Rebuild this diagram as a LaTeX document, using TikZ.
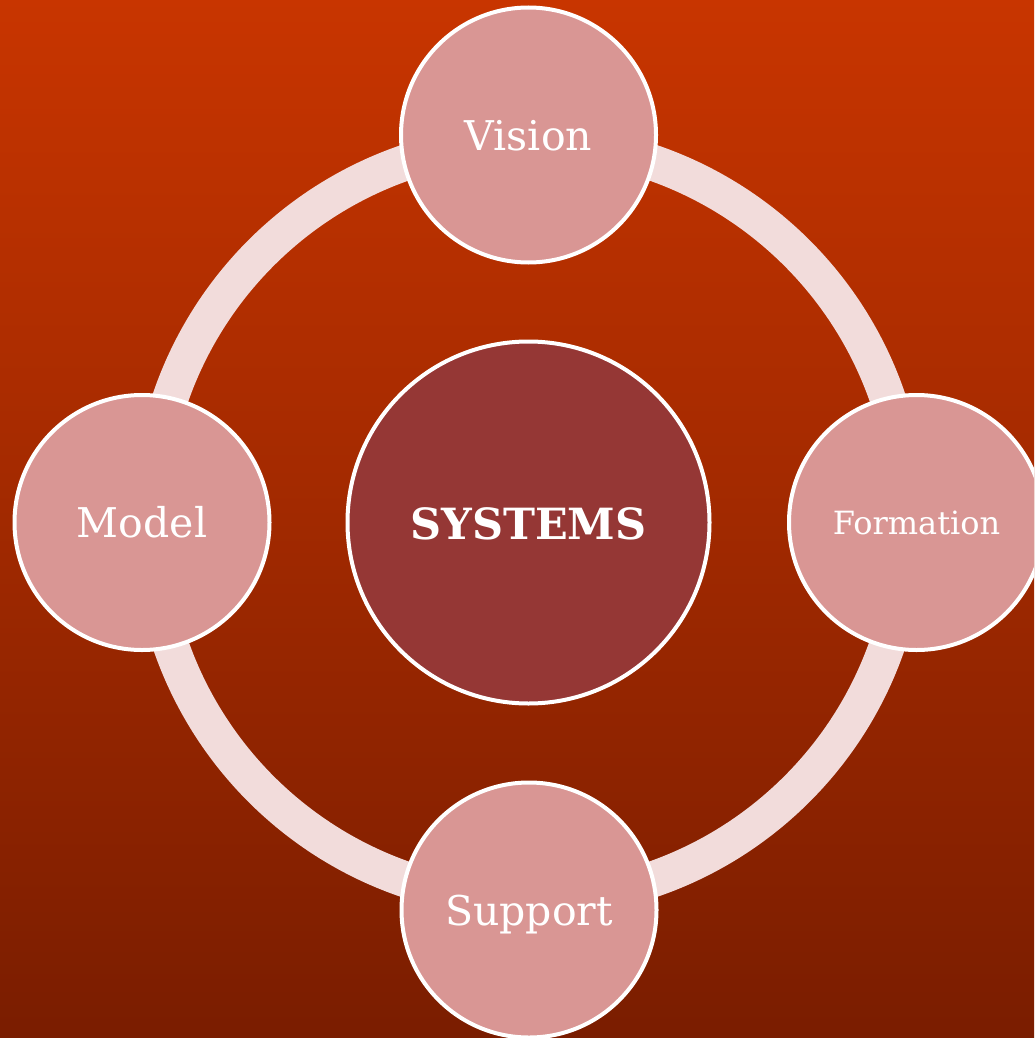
\documentclass[tikz,border=0pt]{standalone}
\usepackage{fontspec}
\setmainfont{DejaVu Serif}
\definecolor{bgtop}{RGB}{200,53,0}
\definecolor{bgmid}{RGB}{168,40,0}
\definecolor{bgbot}{RGB}{122,29,0}
\definecolor{ringcol}{RGB}{242,220,219}
\definecolor{outerfill}{RGB}{217,150,148}
\definecolor{innerfill}{RGB}{149,55,53}
\tikzset{
  outerbub/.style={circle, draw=white, line width=4pt, fill=outerfill, minimum size=255pt, inner sep=0pt, text=white, text height=30pt, text depth=0pt, font=\fontsize{41}{41}\selectfont},
  centerbub/.style={circle, draw=white, line width=4pt, fill=innerfill, minimum size=362pt, inner sep=0pt, text=white, text height=34pt, text depth=0pt, font=\fontsize{43}{43}\selectfont\bfseries},
  ringline/.style={draw=ringcol, line width=36pt}
}
\begin{document}
\begin{tikzpicture}[x=1pt,y=-1pt]
\useasboundingbox (0,0) rectangle (1034,1038);
\clip (0,0) rectangle (1034,1038);
\shade[top color=bgtop, middle color=bgmid, bottom color=bgbot] (0,0) rectangle (1034,1038);
\coordinate (c) at (529,521);
\draw[ringline] (c) circle[radius=379pt];
\node[centerbub] (sys) at (528.5,522.5) {SYSTEMS};
\node[outerbub] (vis) at (528.5,135) {Vision};
\node[outerbub] (mod) at (142,522.5) {Model};
\node[outerbub, text height=23pt, font=\fontsize{32}{32}\selectfont] (form) at (916.5,522.5) {Formation};
\node[outerbub] (sup) at (529,910) {Support};
\end{tikzpicture}
\end{document}
